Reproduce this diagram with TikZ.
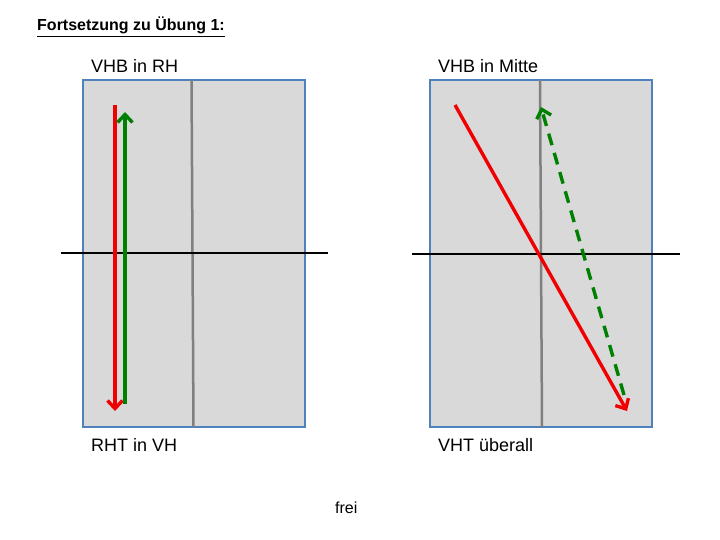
\documentclass[tikz,border=0pt]{standalone}
\usepackage{fontspec}
\setmainfont{Liberation Sans}
\usetikzlibrary{arrows.meta}
\definecolor{boxfill}{RGB}{217,217,217}
\definecolor{boxline}{RGB}{79,129,189}
\definecolor{midgray}{RGB}{128,128,128}
\definecolor{arrred}{RGB}{240,0,0}
\definecolor{arrgreen}{RGB}{0,128,0}
\tikzset{
  panel/.style={draw=boxline, fill=boxfill, line width=1.6pt},
  axisv/.style={draw=midgray, line width=2.5pt},
  axish/.style={draw=black, line width=2pt},
  redarr/.style={draw=arrred, line width=3.4pt, -{Straight Barb[length=8pt,width=15pt,line width=3.4pt]}},
  greenarr/.style={draw=arrgreen, line width=3.4pt, -{Straight Barb[length=8pt,width=15pt,line width=3.4pt]}},
  lbl/.style={anchor=base west, inner sep=0pt, font=\fontsize{18}{20}\selectfont},
}
\begin{document}
\begin{tikzpicture}[x=1pt,y=-1pt]
\useasboundingbox (0,0) rectangle (720,540);
% title
\node[anchor=base west, inner sep=0pt, font=\bfseries\fontsize{16}{18}\selectfont] (title) at (37,31) {\underline{Fortsetzung zu Übung 1:}};
% left panel
\draw[panel] (83,80) rectangle (305,427);
\coordinate (lvt) at (191.5,80);
\coordinate (lvb) at (193.5,427);
\draw[axisv] (lvt) -- (lvb);
\coordinate (lhl) at (61,253);
\coordinate (lhr) at (328,253);
\draw[axish] (lhl) -- (lhr);
\coordinate (lr1) at (115,105);
\coordinate (lr2) at (115,411);
\draw[redarr] (lr1) -- (lr2);
\coordinate (lg1) at (125,404);
\coordinate (lg2) at (125,112);
\draw[greenarr] (lg1) -- (lg2);
\node[lbl] (ltop) at (91,73) {VHB in RH};
\node[lbl] (lbot) at (91,451) {RHT in VH};
% right panel
\draw[panel] (430,80) rectangle (652,427);
\coordinate (rvt) at (540,80);
\coordinate (rvb) at (542,427);
\draw[axisv] (rvt) -- (rvb);
\coordinate (rhl) at (412,254);
\coordinate (rhr) at (680,254);
\draw[axish] (rhl) -- (rhr);
\coordinate (rr1) at (455,105);
\coordinate (rr2) at (627,411);
\draw[redarr] (rr1) -- (rr2);
\coordinate (rg1) at (624,395);
\coordinate (rg2) at (541,107);
\draw[greenarr, dash pattern=on 12pt off 8pt] (rg1) -- (rg2);
\node[lbl] (rtop) at (438,73) {VHB in Mitte};
\node[lbl] (rbot) at (438,451) {VHT überall};
% bottom
\node[anchor=base west, inner sep=0pt, font=\fontsize{16}{18}\selectfont] (frei) at (335,513) {frei};
\end{tikzpicture}
\end{document}
